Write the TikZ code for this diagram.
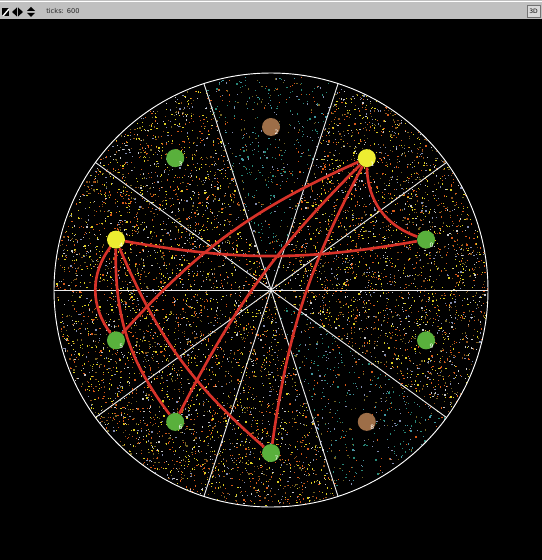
\documentclass[tikz,border=0pt]{standalone}
\usepackage{xcolor}
\usepackage{fontspec}
\setsansfont{DejaVu Sans}
\usetikzlibrary{calc}

\definecolor{nlred}{RGB}{215,50,41}
\definecolor{nlyellow}{RGB}{237,237,49}
\definecolor{nlgreen}{RGB}{89,176,60}
\definecolor{nlbrown}{RGB}{157,110,72}
\definecolor{bargray}{RGB}{192,192,192}
\definecolor{dorange}{RGB}{215,90,25}
\definecolor{dyellow}{RGB}{220,205,35}
\definecolor{dblue}{RGB}{130,140,175}
\definecolor{dwhite}{RGB}{200,200,200}
\definecolor{dbrown}{RGB}{140,80,25}
\definecolor{dolive}{RGB}{115,100,35}
\definecolor{dteal}{RGB}{40,135,120}
\definecolor{dcyan}{RGB}{65,150,160}

\pgfmathdeclarerandomlist{warm}{{dorange}{dorange}{dyellow}{dyellow}{dblue}{dwhite}{dbrown}{dolive}}
\pgfmathdeclarerandomlist{cool}{{dteal}{dcyan}{dblue}{dorange}{dolive}{dteal}}

\tikzset{
  agent/.style={circle, inner sep=0pt, minimum size=13.5pt, draw=none},
  link/.style={nlred, line width=2pt},
  sector/.style={draw=white!92!black, line width=0.7pt},
  numlbl/.style={text=white, font=\sffamily\fontsize{4.5}{5}\selectfont, inner sep=0pt},
}

\begin{document}
\begin{tikzpicture}[x=0.75pt,y=0.75pt,yscale=-1,xscale=1]
\useasboundingbox (0,0) rectangle (542,560);

%Shape: view and tool bar
\fill[black] (0,0) rectangle (542,560);
\fill[bargray] (0,0) rectangle (542,19);
\draw[white, line width=0.8pt] (0,1.5) -- (542,1.5);

%Shape: bar icons
\fill[black] (2,8) rectangle (9,16);
\fill[white] (2,16) -- (9,8) -- (9,10) -- (4,16) -- cycle;
\fill[black] (12,12) -- (17,7.5) -- (17,16.5) -- cycle;
\fill[black] (23,12) -- (18,7.5) -- (18,16.5) -- cycle;
\fill[black] (31,7) -- (35,11) -- (27,11) -- cycle;
\fill[black] (31,17) -- (35,13) -- (27,13) -- cycle;

% Text Node
\node[anchor=west, inner sep=0pt, text=black!85, font=\sffamily\fontsize{5}{6}\selectfont] (ticks) at (46,11) {ticks: 600};
% Text Node
\node[draw=black!55, fill=bargray!60!white, minimum width=9.75pt, minimum height=9pt, inner sep=0pt,
      font=\sffamily\fontsize{4.5}{5}\selectfont] (btn3d) at (533.5,11) {3D};

\coordinate (ctr) at (271,290);

%Shape: speckled patches
\begin{scope}[shift={(ctr)}]
\pgfmathsetseed{600}
\foreach \s in {0,1,3,4,5,6,7,9}{
  \foreach \i in {1,...,850}{
    \pgfmathsetmacro\a{-36*(\s+rnd)}
    \pgfmathsetmacro\r{216*sqrt(rnd)}
    \pgfmathrandomitem\c{warm}
    \fill[\c] (\a:\r) rectangle ++(1.2,1.2);
  }
}
\foreach \s in {2,8}{
  \foreach \i in {1,...,450}{
    \pgfmathsetmacro\a{-36*(\s+rnd)}
    \pgfmathsetmacro\r{216*sqrt(rnd)}
    \pgfmathrandomitem\c{cool}
    \fill[\c] (\a:\r) rectangle ++(1.2,1.2);
  }
}

%Straight Lines: sector borders
\foreach \t in {0,36,...,144}
  \draw[sector] (\t:217) -- (\t+180:217);
%Shape: Circle
\draw[white, line width=0.7pt] (0,0) circle (217);
\end{scope}

%Shape: turtles
\foreach \k/\c in {0/nlgreen,1/nlyellow,2/nlbrown,3/nlgreen,4/nlyellow,5/nlgreen,6/nlgreen,7/nlgreen,8/nlbrown,9/nlgreen}
  \node[agent, fill=\c, label={[numlbl, label distance=-3.5pt]-45:\k}] (n\k) at ($(ctr)+(-18-36*\k:163)$) {};

%Curves: links
\draw[link] (n1) to[bend left=35] (n0);
\draw[link] (n1) to[bend left=12] (n5);
\draw[link] (n1) to[bend left=9] (n6);
\draw[link] (n1) to[bend left=10] (n7);
\draw[link] (n4) to[bend left=10] (n0);
\draw[link] (n4) to[bend left=37] (n5);
\draw[link] (n4) to[bend left=19] (n6);
\draw[link] (n4) to[bend left=13] (n7);

\end{tikzpicture}
\end{document}
